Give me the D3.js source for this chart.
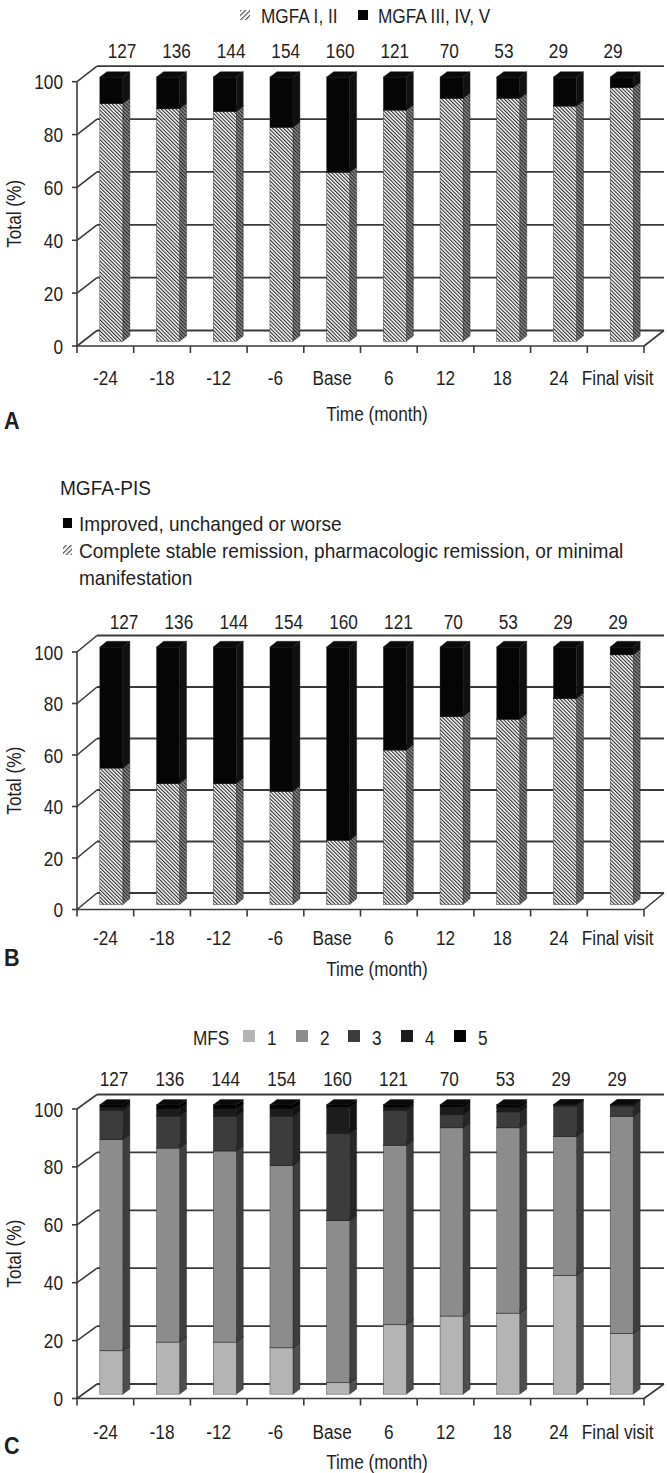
<!DOCTYPE html>
<html><head><meta charset="utf-8">
<script src="https://cdn.jsdelivr.net/npm/d3@7"></script>
<style>
body{margin:0;background:#fff;}
svg text{font-family:"Liberation Sans",Arial,"DejaVu Sans Condensed",sans-serif;fill:#1e1e1e;font-size:20.5px;}
</style></head><body>
<svg id="chart" width="667" height="1473"></svg>
<script>
// ---------- data ----------
const categories = ["-24","-18","-12","-6","Base","6","12","18","24","Final visit"];
const counts = [127,136,144,154,160,121,70,53,29,29];
const yTicks = [0,20,40,60,80,100];

// Panel A (MGFA class, %)
const seriesA = ["MGFA I, II","MGFA III, IV, V"];
const mgfaLow  = [90,88,87,81,64,87.5,92,92,89,96];
const mgfaHigh = [10,12,13,19,36,12.5,8,8,11,4];

// Panel B (MGFA-PIS, %)
const seriesB = ["Complete stable remission, pharmacologic remission, or minimal manifestation","Improved, unchanged or worse"];
const pisRemission = [53,47,47,44,25,60,73,72,80,97];
const pisWorse     = [47,53,53,56,75,40,27,28,20,3];

// Panel C (MFS, %)
const seriesC = ["1","2","3","4","5"];
const mfs1 = [15,18,18,16,4,24,27,28,41,21];
const mfs2 = [73,67,66,63,56,62,65,64,48,75];
const mfs3 = [10,11,12,17,30,12,4.5,5.5,10.5,3.5];
const mfs4 = [1,2.5,2.5,2.5,9,1,2.5,1.5,0.5,0.5];
const mfs5 = [1,1.5,1.5,1.5,1,1,1,1,0,0];

// ---------- drawing ----------
const SX = 0.84; // condensed look
const svg = d3.select("#chart");
const defs = svg.append("defs");
function T(parent, x, y, str, anchor, extra, sx){
  return parent.append("text")
    .attr("transform",`translate(${x},${y})${extra||""} scale(${sx||SX},1)`)
    .attr("text-anchor",anchor||"start").text(str);
}
function hatch(id, bg, fg, size, lw, rot){
  const p = defs.append("pattern").attr("id",id).attr("patternUnits","userSpaceOnUse")
    .attr("width",size).attr("height",10).attr("patternTransform",`rotate(${rot})`);
  p.append("rect").attr("width",size).attr("height",10).attr("fill",bg);
  p.append("rect").attr("width",lw).attr("height",10).attr("fill",fg);
}
hatch("hFront","#ffffff","#2a2a2a",2.6,1.1,-45);
hatch("hSide","#8a8a8a","#262626",2.6,1.1,-45);
hatch("hLegend","#ffffff","#555555",3.4,1.2,45);

const GRID = "#3a3a3a";
const X0 = 77, X1 = 644, DX = 20;

function drawPanel(cfg){
  const g = svg.append("g");
  const x = d3.scaleBand().domain(categories).range([X0, X1]);
  const y = d3.scaleLinear().domain([0,100]).range([cfg.y0, cfg.y100]);
  const DY = cfg.dy;
  const P = (px,py,t)=>[px+t*DX, py+t*DY];

  yTicks.forEach(v=>{
    g.append("line").attr("x1",X0).attr("y1",y(v)).attr("x2",X0+DX).attr("y2",y(v)+DY)
      .attr("stroke",GRID).attr("stroke-width",1.6);
    g.append("line").attr("x1",X0+DX).attr("y1",y(v)+DY).attr("x2",X1+DX).attr("y2",y(v)+DY)
      .attr("stroke",GRID).attr("stroke-width",1.8);
  });
  g.append("line").attr("x1",X1).attr("y1",y(0)).attr("x2",X1+DX).attr("y2",y(0)+DY)
    .attr("stroke",GRID).attr("stroke-width",1.6);

  const t0 = 0.3, t1 = 0.65;
  const bw = x.bandwidth();
  const pts = a=>a.map(p=>p.join(",")).join(" ");
  categories.forEach((c,i)=>{
    const xl = x(c) + bw*0.297, xr = xl + bw*0.406;
    let acc = 0;
    cfg.series.forEach(s=>{
      const v0 = acc, v1 = acc + s.values[i];
      acc = v1;
      const yb = y(v0), yt = y(v1);
      g.append("polygon").attr("points",pts([P(xr,yt,t0),P(xr,yt,t1),P(xr,yb,t1),P(xr,yb,t0)]))
        .attr("fill",s.side).attr("stroke","#222").attr("stroke-width",0.4);
      const f0 = P(xl,yt,t0);
      g.append("rect").attr("x",f0[0]).attr("y",f0[1]).attr("width",xr-xl).attr("height",Math.max(0,yb-yt))
        .attr("fill",s.front).attr("stroke","#222").attr("stroke-width",0.4);
      g.append("polygon").attr("points",pts([P(xl,yt,t0),P(xr,yt,t0),P(xr,yt,t1),P(xl,yt,t1)]))
        .attr("fill",s.top).attr("stroke","#222").attr("stroke-width",0.4);
    });
  });

  g.append("line").attr("x1",X0).attr("y1",y(100)).attr("x2",X0).attr("y2",y(0))
    .attr("stroke",GRID).attr("stroke-width",1.6);
  g.append("line").attr("x1",X0).attr("y1",y(0)).attr("x2",X1).attr("y2",y(0))
    .attr("stroke",GRID).attr("stroke-width",1.6);
  yTicks.forEach(v=>{
    g.append("line").attr("x1",X0-5).attr("x2",X0).attr("y1",y(v)).attr("y2",y(v))
      .attr("stroke",GRID).attr("stroke-width",1.6);
    T(g, X0-14, y(v)+7.5, v, "end");
  });
  categories.map(c=>x(c)).concat([X1]).forEach(b=>{
    g.append("line").attr("x1",b).attr("x2",b).attr("y1",y(0)).attr("y2",y(0)+7)
      .attr("stroke",GRID).attr("stroke-width",1.6);
  });
  categories.forEach(c=>{
    T(g, x(c)+bw/2+(c==="Final visit"?2:0), cfg.xLabY, c, "middle");
  });
  const cx = d3.scalePoint().domain(categories).range(cfg.countRange);
  categories.forEach((c,i)=>{ T(g, cx(c), cfg.countY, counts[i], "middle"); });
  const yc = (y(0)+y(100))/2;
  T(g, 21, yc, "Total (%)", "middle", " rotate(-90)");
  T(g, 377, cfg.timeY, "Time (month)", "middle");
  g.append("text").attr("transform",`translate(4,${cfg.letterY}) scale(0.9,1)`)
    .style("font-weight","bold").style("font-size","24px").text(cfg.letter);
  return g;
}

// Panel A
drawPanel({
  y0:346, y100:81.7, dy:-15.5, xLabY:384.5, timeY:420.5, countY:57.5, countRange:[122,613],
  letter:"A", letterY:429,
  series:[
    {name:seriesA[0], values:mgfaLow, front:"url(#hFront)", side:"url(#hSide)", top:"#111"},
    {name:seriesA[1], values:mgfaHigh, front:"#050505", side:"#111", top:"#0a0a0a"}
  ]
});
svg.append("rect").attr("x",240).attr("y",10).attr("width",10).attr("height",10).attr("fill","url(#hLegend)");
T(svg, 261, 22.5, seriesA[0]);
svg.append("rect").attr("x",358).attr("y",10).attr("width",10).attr("height",10).attr("fill","#050505");
T(svg, 378, 22.5, seriesA[1]);

// Panel B
drawPanel({
  y0:909.5, y100:652, dy:-16.5, xLabY:944.5, timeY:975.5, countY:629, countRange:[124,618],
  letter:"B", letterY:966,
  series:[
    {name:seriesB[0], values:pisRemission, front:"url(#hFront)", side:"url(#hSide)", top:"#111"},
    {name:seriesB[1], values:pisWorse, front:"#050505", side:"#111", top:"#0a0a0a"}
  ]
});
const SXB = 0.93;
T(svg, 60, 494.5, "MGFA-PIS", "start", "", SXB);
svg.append("rect").attr("x",63).attr("y",518).attr("width",9).attr("height",10).attr("fill","#050505");
T(svg, 79, 530.5, seriesB[1], "start", "", SXB);
svg.append("rect").attr("x",63).attr("y",545).attr("width",9).attr("height",10).attr("fill","url(#hLegend)");
T(svg, 79, 557.5, "Complete stable remission, pharmacologic remission, or minimal", "start", "", SXB);
T(svg, 79, 584.5, "manifestation", "start", "", SXB);

// Panel C
const colC = ["#b4b4b4","#8c8c8c","#3c3c3c","#1c1c1c","#030303"];
const sideC = ["#4e4e4e","#3e3e3e","#272727","#121212","#000000"];
const valsC = [mfs1,mfs2,mfs3,mfs4,mfs5];
drawPanel({
  y0:1398.5, y100:1109, dy:-14.5, xLabY:1439, timeY:1469, countY:1085.5, countRange:[114,617],
  letter:"C", letterY:1454,
  series: seriesC.map((s,k)=>({name:s, values:valsC[k], front:colC[k], side:sideC[k], top:"#0a0a0a"}))
});
T(svg, 193, 1044.5, "MFS");
const legX = [243,296,348,401,454];
seriesC.forEach((s,k)=>{
  svg.append("rect").attr("x",legX[k]).attr("y",1030).attr("width",12).attr("height",12).attr("fill",colC[k]);
  T(svg, legX[k]+24, 1044.5, s);
});
</script>
</body></html>
